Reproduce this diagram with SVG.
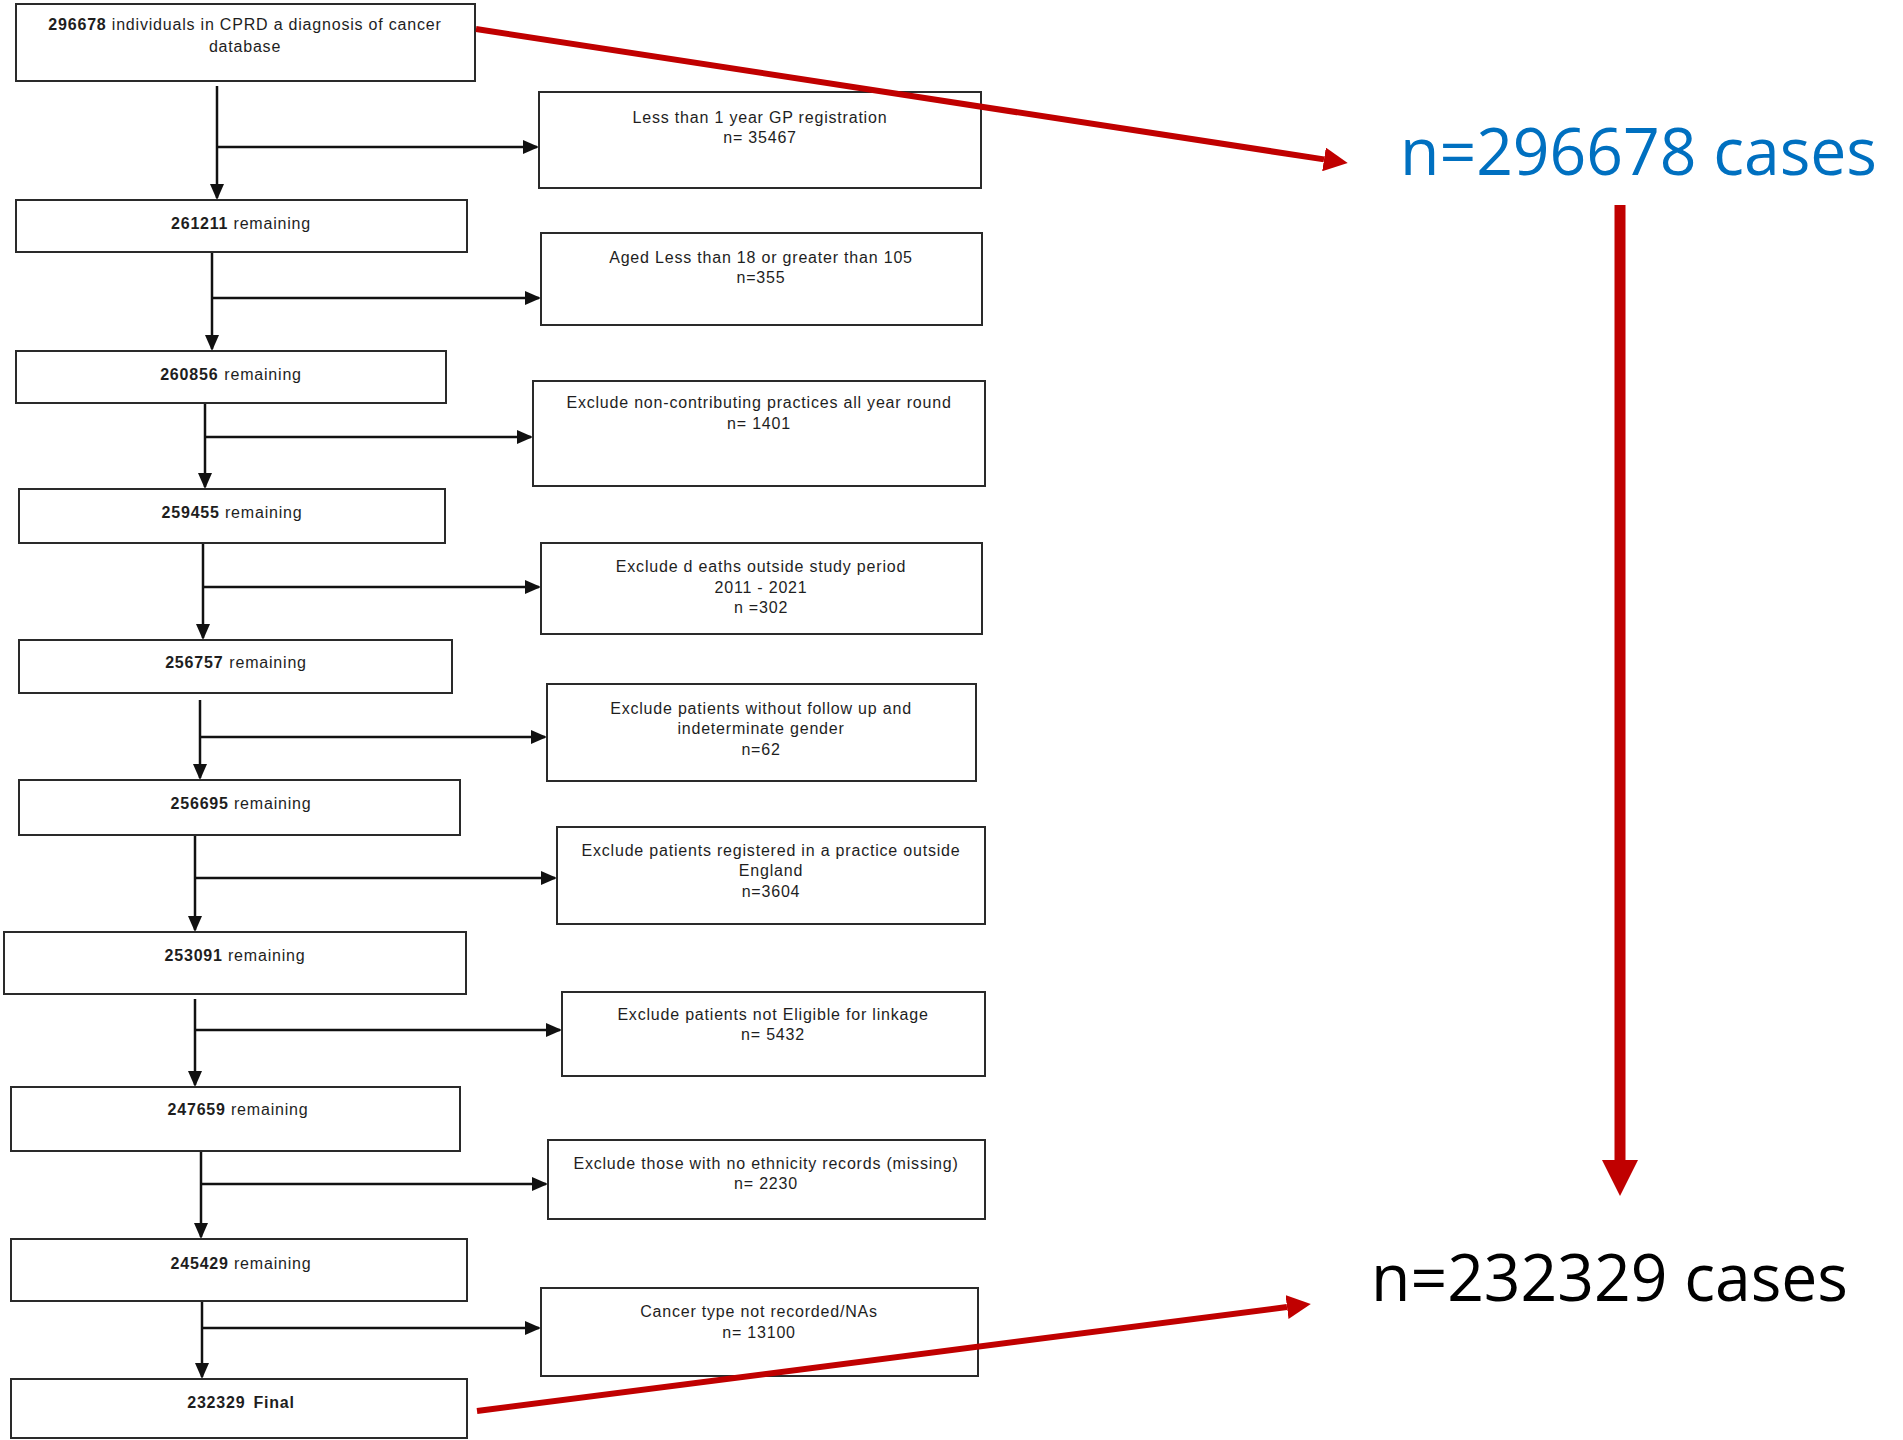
<svg xmlns="http://www.w3.org/2000/svg" width="1903" height="1440" viewBox="0 0 1903 1440">
<style>
.box{fill:#fff;stroke:#2a2a2a;stroke-width:2}
.t{font-family:"Liberation Sans",Arial,sans-serif;font-size:16px;letter-spacing:0.8px;fill:#1e1e1e;text-anchor:middle}
.b{font-weight:bold}
.conn{fill:none;stroke:#111;stroke-width:2.5}
.red{fill:none;stroke:#C00000;stroke-width:6}
.redv{fill:none;stroke:#C00000;stroke-width:11}
.big{font-family:"Open Sans","Noto Sans",sans-serif;font-size:66px}
</style>
<defs>
<marker id="ah" markerUnits="userSpaceOnUse" markerWidth="16" markerHeight="14" refX="14" refY="7" orient="auto"><path d="M0,0 L16,7 L0,14 z" fill="#111"/></marker>
<marker id="rah" markerUnits="userSpaceOnUse" markerWidth="25" markerHeight="24" refX="0" refY="12" orient="auto"><path d="M0,0 L24,12 L0,24 z" fill="#C00000"/></marker>
<marker id="rahv" markerUnits="userSpaceOnUse" markerWidth="37" markerHeight="36" refX="0" refY="18" orient="auto"><path d="M0,0 L36,18 L0,36 z" fill="#C00000"/></marker>
</defs>
<rect width="1903" height="1440" fill="#fff"/>

<g id="connectors">
<path class="conn" marker-end="url(#ah)" d="M217,86 V198"/>
<path class="conn" marker-end="url(#ah)" d="M217,147 H537"/>
<path class="conn" marker-end="url(#ah)" d="M212,252 V349"/>
<path class="conn" marker-end="url(#ah)" d="M212,298 H539"/>
<path class="conn" marker-end="url(#ah)" d="M205,403 V487"/>
<path class="conn" marker-end="url(#ah)" d="M205,437 H531"/>
<path class="conn" marker-end="url(#ah)" d="M203,543 V638"/>
<path class="conn" marker-end="url(#ah)" d="M203,587 H539"/>
<path class="conn" marker-end="url(#ah)" d="M200,700 V778"/>
<path class="conn" marker-end="url(#ah)" d="M200,737 H545"/>
<path class="conn" marker-end="url(#ah)" d="M195,835 V930"/>
<path class="conn" marker-end="url(#ah)" d="M195,878 H555"/>
<path class="conn" marker-end="url(#ah)" d="M195,999 V1085"/>
<path class="conn" marker-end="url(#ah)" d="M195,1030 H560"/>
<path class="conn" marker-end="url(#ah)" d="M201,1151 V1237"/>
<path class="conn" marker-end="url(#ah)" d="M201,1184 H546"/>
<path class="conn" marker-end="url(#ah)" d="M202,1301 V1377"/>
<path class="conn" marker-end="url(#ah)" d="M202,1328 H539"/>
</g>

<g id="n1"><rect class="box" x="16" y="4" width="459" height="77"/>
<text class="t" x="245" y="30"><tspan class="b">296678</tspan> individuals in CPRD a diagnosis of cancer</text>
<text class="t" x="245" y="52">database</text></g>
<g id="n2"><rect class="box" x="16" y="200" width="451" height="52"/>
<text class="t" x="241" y="229"><tspan class="b">261211</tspan> remaining</text></g>
<g id="n3"><rect class="box" x="16" y="351" width="430" height="52"/>
<text class="t" x="231" y="380"><tspan class="b">260856</tspan><tspan dx="6">remaining</tspan></text></g>
<g id="n4"><rect class="box" x="19" y="489" width="426" height="54"/>
<text class="t" x="232" y="518"><tspan class="b">259455</tspan> remaining</text></g>
<g id="n5"><rect class="box" x="19" y="640" width="433" height="53"/>
<text class="t" x="236" y="668"><tspan class="b">256757</tspan><tspan dx="6">remaining</tspan></text></g>
<g id="n6"><rect class="box" x="19" y="780" width="441" height="55"/>
<text class="t" x="241" y="809"><tspan class="b">256695</tspan> remaining</text></g>
<g id="n7"><rect class="box" x="4" y="932" width="462" height="62"/>
<text class="t" x="235" y="961"><tspan class="b">253091</tspan> remaining</text></g>
<g id="n8"><rect class="box" x="11" y="1087" width="449" height="64"/>
<text class="t" x="238" y="1115"><tspan class="b">247659</tspan> remaining</text></g>
<g id="n9"><rect class="box" x="11" y="1239" width="456" height="62"/>
<text class="t" x="241" y="1269"><tspan class="b">245429</tspan> remaining</text></g>
<g id="n10"><rect class="box" x="11" y="1379" width="456" height="59"/>
<text class="t b" x="241" y="1408">232329<tspan dx="8">Final</tspan></text></g>

<g id="r1"><rect class="box" x="539" y="92" width="442" height="96"/>
<text class="t" x="760" y="123">Less than 1 year GP registration</text>
<text class="t" x="760" y="143">n= 35467</text></g>
<g id="r2"><rect class="box" x="541" y="233" width="441" height="92"/>
<text class="t" x="761" y="263">Aged Less than 18 or greater than 105</text>
<text class="t" x="761" y="283">n=355</text></g>
<g id="r3"><rect class="box" x="533" y="381" width="452" height="105"/>
<text class="t" x="759" y="408">Exclude non-contributing practices all year round</text>
<text class="t" x="759" y="429">n= 1401</text></g>
<g id="r4"><rect class="box" x="541" y="543" width="441" height="91"/>
<text class="t" x="761" y="572">Exclude d eaths outside study period</text>
<text class="t" x="761" y="593">2011 - 2021</text>
<text class="t" x="761" y="613">n =302</text></g>
<g id="r5"><rect class="box" x="547" y="684" width="429" height="97"/>
<text class="t" x="761" y="714">Exclude patients without follow up and</text>
<text class="t" x="761" y="734">indeterminate gender</text>
<text class="t" x="761" y="755">n=62</text></g>
<g id="r6"><rect class="box" x="557" y="827" width="428" height="97"/>
<text class="t" x="771" y="856">Exclude patients registered in a practice outside</text>
<text class="t" x="771" y="876">England</text>
<text class="t" x="771" y="897">n=3604</text></g>
<g id="r7"><rect class="box" x="562" y="992" width="423" height="84"/>
<text class="t" x="773" y="1020">Exclude patients not Eligible for linkage</text>
<text class="t" x="773" y="1040">n= 5432</text></g>
<g id="r8"><rect class="box" x="548" y="1140" width="437" height="79"/>
<text class="t" x="766" y="1169">Exclude those with no ethnicity  records (missing)</text>
<text class="t" x="766" y="1189">n= 2230</text></g>
<g id="r9"><rect class="box" x="541" y="1288" width="437" height="88"/>
<text class="t" x="759" y="1317">Cancer type not recorded/NAs</text>
<text class="t" x="759" y="1338">n= 13100</text></g>

<g id="red-connectors">
<path class="red" marker-end="url(#rah)" d="M476,29 L1324,159.4"/>
<path class="red" marker-end="url(#rah)" d="M477,1411 L1287,1307"/>
<path class="redv" marker-end="url(#rahv)" d="M1620,205 V1160"/>
</g>

<g id="summary-top"><text class="big" x="1400" y="175" fill="#0070C0" textLength="477" lengthAdjust="spacingAndGlyphs">n=296678 cases</text></g>
<g id="summary-bottom"><text class="big" x="1371" y="1301" fill="#000" textLength="477" lengthAdjust="spacingAndGlyphs">n=232329 cases</text></g>
</svg>
